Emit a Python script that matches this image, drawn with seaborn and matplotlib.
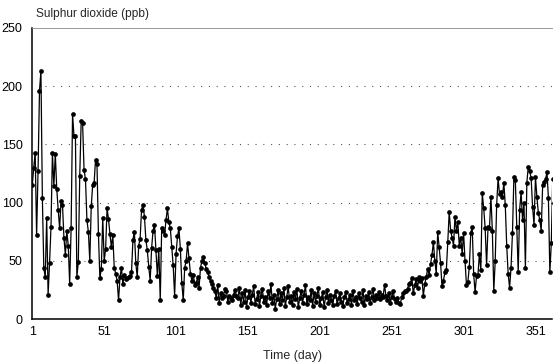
import numpy as np
import pandas as pd
import matplotlib
matplotlib.use("Agg")
import matplotlib.pyplot as plt
import seaborn as sns

# ---- data ----
so2_jan_feb = [115, 130, 143, 72, 127, 196, 213, 104, 44, 36,
               87, 21, 48, 79, 143, 114, 142, 112, 94, 78,
               101, 98, 70, 55, 76, 63, 30, 78, 176, 157,
               157, 36, 49, 123, 170, 168, 128, 120, 85, 75,
               50, 97, 115, 117, 137, 133, 73, 35, 43, 87,
               50, 60, 95, 86, 73, 62, 72, 44, 39, 33,
               16, 36]
so2_spring = [44, 30, 38, 34, 35, 36, 37, 40, 68, 75,
              48, 36, 63, 69, 94, 98, 88, 68, 59, 45,
              33, 61, 76, 81, 59, 37, 60, 16, 78, 76,
              72, 85, 95, 83, 78, 62, 46, 20, 56, 71,
              78, 60, 31, 16, 44, 50, 65, 52, 39, 33,
              38, 29, 31, 36, 27, 44, 50, 53, 48, 43,
              40, 36, 33, 30, 27, 24, 18, 29, 14, 22,
              18, 20, 26, 24, 15, 20, 18, 16, 21, 25,
              20]
so2_summer = [18, 27, 12, 22, 15, 25, 10, 19, 24, 14, 21, 28, 13, 17, 23, 11, 20,
              26, 15, 19, 12, 24, 18, 30, 14, 21, 9, 17, 25, 13, 22, 16, 27, 11, 19, 28, 15,
              20, 12, 23, 17, 26, 10, 18, 24, 14, 21, 29, 13, 19, 16, 25, 11, 22, 15, 20, 27,
              12, 18, 23, 10, 19, 25, 14, 21, 16, 12, 20, 24, 13, 18, 22, 15, 11, 19, 23, 14,
              17, 21, 12, 24, 16, 19, 13, 22, 18, 15, 25, 12, 20, 17, 23, 14, 19, 26, 16, 21,
              18, 23, 17, 21, 19, 29, 20, 16, 22, 14, 19, 24, 17, 15, 18, 14, 13,
              19, 22, 24]
so2_autumn = [24, 26, 30, 31, 35, 22, 29, 34, 27, 36,
              33, 35, 20, 30, 36, 43, 38, 47, 55, 66,
              50, 39, 75, 62, 48, 28, 33, 40, 42, 66,
              92, 76, 70, 63, 88, 76, 83, 63, 70, 56,
              74, 50, 29, 32, 45, 74, 79, 39, 23, 37,
              38, 56, 42, 108, 95, 78, 46, 79, 78, 105,
              76, 24, 50, 98, 121, 107, 109, 105, 117, 98,
              63, 39, 27, 44, 74, 122, 119, 79, 40, 94,
              109, 85, 100, 44, 117, 131, 127, 121, 96, 81,
              122, 105, 91, 85, 76, 115, 118, 120, 126, 104,
              40, 65, 120, 100, 90]

so2 = so2_jan_feb + so2_spring + so2_summer + so2_autumn
days = list(range(1, len(so2) + 1))
x_ticks = [1, 51, 101, 151, 201, 251, 301, 351]
y_ticks = [0, 50, 100, 150, 200, 250]

df = pd.DataFrame({"day": days, "so2": so2})

sns.set_style("white")
plt.rcParams["font.family"] = ["Liberation Sans", "DejaVu Sans"]

fig = plt.figure(figsize=(5.53, 3.63), dpi=100)
ax = fig.add_axes([32.3 / 553, 1 - 319 / 363, 519.7 / 553, 291 / 363])

sns.lineplot(data=df, x="day", y="so2", ax=ax, color="black", linewidth=0.9,
             marker="o", markersize=3.4, markeredgewidth=0, markerfacecolor="black")

ax.set_xlim(1, 362.5)
ax.set_ylim(0, 250)
ax.set_xticks(x_ticks)
ax.set_yticks(y_ticks)
ax.tick_params(axis="both", length=0, labelsize=9, colors="black")
ax.tick_params(axis="x", pad=5)
ax.tick_params(axis="y", pad=7)

for yv in y_ticks[1:-1]:
    ax.axhline(yv, xmin=0.025, color="#555555", linewidth=0.8,
               linestyle=(0, (1, 6)), zorder=0)

ax.spines["right"].set_visible(False)
ax.spines["left"].set_color("black")
ax.spines["left"].set_linewidth(1.1)
ax.spines["bottom"].set_color("black")
ax.spines["bottom"].set_linewidth(1.1)
ax.spines["top"].set_color("#888888")
ax.spines["top"].set_linewidth(0.6)

ax.set_xlabel("Time (day)", fontsize=8.9, labelpad=9)
ax.set_ylabel("")
fig.text(36 / 553, 1 - 14 / 363, "Sulphur dioxide (ppb)", fontsize=8.6,
         ha="left", va="center")

fig.savefig("out.png", dpi=100)
